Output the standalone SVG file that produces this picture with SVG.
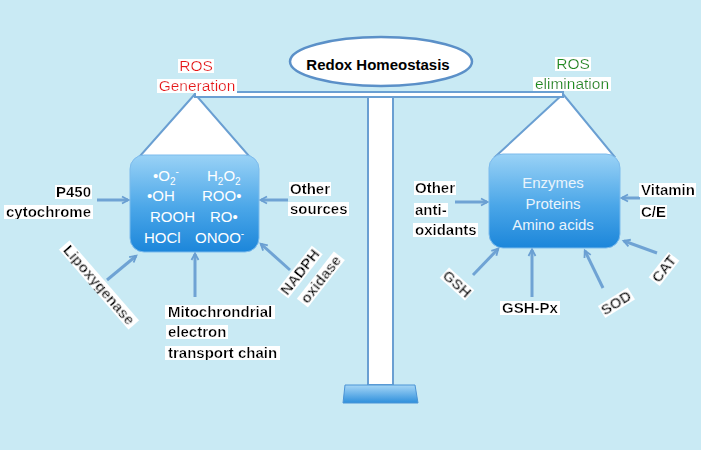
<svg xmlns="http://www.w3.org/2000/svg" width="701" height="450" viewBox="0 0 701 450">
  <defs>
    <linearGradient id="boxGrad" x1="0" y1="0" x2="0" y2="1">
      <stop offset="0" stop-color="#9ad2f6"/>
      <stop offset="0.55" stop-color="#4aa6e8"/>
      <stop offset="1" stop-color="#1c86da"/>
    </linearGradient>
    <linearGradient id="baseGrad" x1="0" y1="0" x2="0" y2="1">
      <stop offset="0" stop-color="#a6d6f6"/>
      <stop offset="1" stop-color="#2d8fdc"/>
    </linearGradient>
    <filter id="hl" x="-0.02" y="0.14" width="1.04" height="0.8">
      <feFlood flood-color="#ffffff" result="f"/>
      <feMerge><feMergeNode in="f"/><feMergeNode in="SourceGraphic"/></feMerge>
    </filter>
    <marker id="arr" markerWidth="10" markerHeight="10" refX="7" refY="5" orient="auto" markerUnits="userSpaceOnUse">
      <path d="M1,1.5 L7.5,5 L1,8.5" fill="none" stroke="#6a9fd2" stroke-width="1.8"/>
    </marker>
    <style>
      .lbl { font-family: "Liberation Sans", Arial, sans-serif; font-weight: bold; font-size: 15px; fill: #000; }
      .bx { font-family: "Liberation Sans", Arial, sans-serif; font-size: 15px; fill: #ffffff; }
      .bx2 { font-family: "Liberation Sans", Arial, sans-serif; font-size: 15px; fill: #e9f4fc; }
      .red { font-family: "Liberation Sans", Arial, sans-serif; font-size: 15.5px; fill: #e81218; }
      .grn { font-family: "Liberation Sans", Arial, sans-serif; font-size: 15.5px; fill: #1b8f1b; }
      .ln { stroke: #6a9fd2; stroke-width: 2; fill: #ffffff; }
      .conn line { stroke: #6fa3d4; stroke-width: 3; marker-end: url(#arr); }
    </style>
  </defs>

  <rect x="0" y="0" width="701" height="450" fill="#c9eaf4"/>

  <!-- balance scale -->
  <g id="scale">
    <polygon class="ln" points="195,94 140,156 249,156"/>
    <polygon class="ln" points="563,94 496,156 614,156"/>
    <rect class="ln" x="368" y="95" width="25" height="290" stroke-width="1.5"/>
    <rect class="ln" x="195" y="92" width="368" height="5" stroke-width="1.5"/>
    <polygon points="345,385 415,385 418,403 343,403" fill="url(#baseGrad)" stroke="#4b94d6" stroke-width="1"/>
  </g>

  <g id="redox-homeostasis">
    <ellipse cx="381" cy="61.5" rx="91" ry="24.5" fill="#ffffff" stroke="#5b90c8" stroke-width="2.5"/>
    <text class="lbl" x="378" y="70" text-anchor="middle">Redox Homeostasis</text>
  </g>

  <g id="ros-generation-label">
    <text class="red" x="196" y="71" text-anchor="middle" filter="url(#hl)">ROS</text>
    <text class="red" x="197" y="91" text-anchor="middle" filter="url(#hl)">Generation</text>
  </g>

  <g id="ros-elimination-label">
    <text class="grn" x="573" y="69" text-anchor="middle" filter="url(#hl)">ROS</text>
    <text class="grn" x="572" y="89" text-anchor="middle" filter="url(#hl)">elimination</text>
  </g>

  <g id="ros-box">
    <rect x="130" y="155" width="129" height="97" rx="14" fill="url(#boxGrad)" stroke="#7dbbec" stroke-width="1"/>
    <text class="bx" x="153" y="181">•O<tspan font-size="10" dy="4">2</tspan><tspan font-size="10" dy="-10">-</tspan></text>
    <text class="bx" x="207" y="181">H<tspan font-size="10" dy="4">2</tspan><tspan dy="-4">O</tspan><tspan font-size="10" dy="4">2</tspan></text>
    <text class="bx" x="147" y="201">•OH</text>
    <text class="bx" x="202" y="201">ROO•</text>
    <text class="bx" x="150" y="222">ROOH</text>
    <text class="bx" x="210" y="222">RO•</text>
    <text class="bx" x="144" y="243">HOCl</text>
    <text class="bx" x="195" y="243">ONOO<tspan font-size="10" dy="-6">-</tspan></text>
  </g>

  <g id="antioxidant-box">
    <rect x="489" y="154" width="131" height="94" rx="14" fill="url(#boxGrad)" stroke="#7dbbec" stroke-width="1"/>
    <text class="bx2" x="553" y="188" text-anchor="middle">Enzymes</text>
    <text class="bx2" x="553" y="209" text-anchor="middle">Proteins</text>
    <text class="bx2" x="553" y="230" text-anchor="middle">Amino acids</text>
  </g>

  <g id="connectors" class="conn">
    <line x1="97" y1="200" x2="128" y2="200"/>
    <line x1="288" y1="200" x2="261" y2="200"/>
    <line x1="107" y1="280" x2="136" y2="256"/>
    <line x1="195" y1="297" x2="195" y2="254"/>
    <line x1="290" y1="270" x2="261" y2="244"/>
    <line x1="455" y1="202" x2="487" y2="202"/>
    <line x1="640" y1="198" x2="622" y2="198"/>
    <line x1="473" y1="275" x2="498" y2="249"/>
    <line x1="532" y1="297" x2="532" y2="250"/>
    <line x1="603" y1="288" x2="585" y2="251"/>
    <line x1="657" y1="253" x2="624" y2="241"/>
  </g>

  <g id="p450">
    <text class="lbl" x="91" y="197" text-anchor="end" filter="url(#hl)">P450</text>
    <text class="lbl" x="91" y="217" text-anchor="end" filter="url(#hl)">cytochrome</text>
  </g>
  <g id="other-sources">
    <text class="lbl" x="290" y="194" filter="url(#hl)">Other</text>
    <text class="lbl" x="290" y="214" filter="url(#hl)">sources</text>
  </g>
  <g id="lipoxygenase" transform="translate(99,285) rotate(49)">
    <text class="lbl" x="0" y="5" text-anchor="middle" filter="url(#hl)">Lipoxygenase</text>
  </g>
  <g id="mitochondrial">
    <text class="lbl" x="168" y="317" filter="url(#hl)">Mitochrondrial</text>
    <text class="lbl" x="168" y="337" filter="url(#hl)">electron</text>
    <text class="lbl" x="168" y="358" filter="url(#hl)">transport chain</text>
  </g>
  <g id="nadph-oxidase" transform="translate(300,272) rotate(-52)">
    <text class="lbl" x="0" y="5" text-anchor="middle" filter="url(#hl)">NADPH</text>
    <text class="lbl" x="7" y="26" text-anchor="middle" filter="url(#hl)">oxidase</text>
  </g>

  <g id="other-antioxidants">
    <text class="lbl" x="415" y="193" filter="url(#hl)">Other</text>
    <text class="lbl" x="415" y="215" filter="url(#hl)">anti-</text>
    <text class="lbl" x="415" y="235" filter="url(#hl)">oxidants</text>
  </g>
  <g id="vitamin">
    <text class="lbl" x="641" y="195" filter="url(#hl)">Vitamin</text>
    <text class="lbl" x="641" y="217" filter="url(#hl)">C/E</text>
  </g>
  <g id="gsh" transform="translate(457,284) rotate(42)">
    <text class="lbl" x="0" y="5" text-anchor="middle" filter="url(#hl)">GSH</text>
  </g>
  <g id="gsh-px">
    <text class="lbl" x="530" y="313" text-anchor="middle" filter="url(#hl)">GSH-Px</text>
  </g>
  <g id="sod" transform="translate(616,303) rotate(-32)">
    <text class="lbl" x="0" y="5" text-anchor="middle" filter="url(#hl)">SOD</text>
  </g>
  <g id="cat" transform="translate(664,269) rotate(-52)">
    <text class="lbl" x="0" y="5" text-anchor="middle" filter="url(#hl)">CAT</text>
  </g>
</svg>
